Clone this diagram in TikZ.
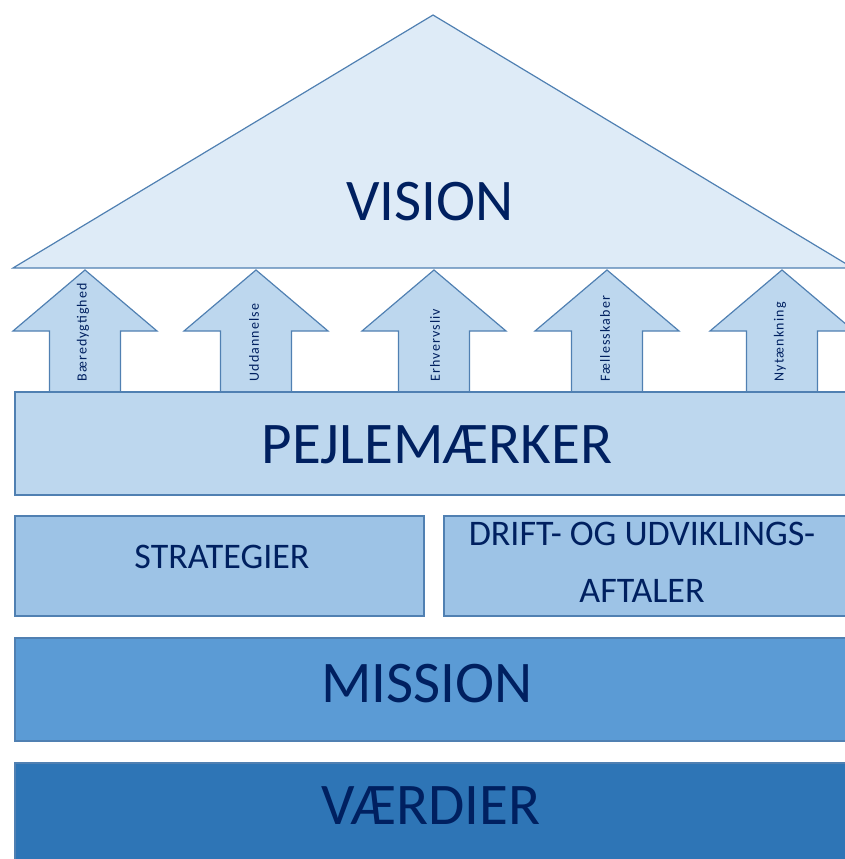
\documentclass[tikz,border=0pt]{standalone}
\usepackage{fontspec}
\setmainfont{Carlito}
\definecolor{navy}{HTML}{002060}
\definecolor{kant}{HTML}{5080B2}
\definecolor{blaa1}{HTML}{DEEBF7}
\definecolor{blaa2}{HTML}{BDD7EE}
\definecolor{blaa3}{HTML}{9DC3E6}
\definecolor{blaa4}{HTML}{5B9BD5}
\definecolor{blaa5}{HTML}{2E75B6}
\tikzset{
  felt/.style={draw=kant, line width=1.2pt},
  pil/.style={felt, fill=blaa2, line join=miter},
  stor/.style={text=navy, font=\fontsize{59}{62}\selectfont},
  mellem/.style={text=navy, font=\fontsize{36}{57}\selectfont, align=center},
  lille/.style={text=navy, font=\fontsize{14}{15}\selectfont\addfontfeature{LetterSpace=8}, rotate=90, anchor=west},
}
\begin{document}
\begin{tikzpicture}[x=1pt, y=-1pt]
    \useasboundingbox (0,0) rectangle (845,859);
    \clip (0,0) rectangle (845,859);
    % pile op mod taget
    \draw[pil] (85,270) -- ++(72,61) -- ++(-36.5,0) -- ++(0,61) -- ++(-71,0) -- ++(0,-61) -- ++(-36.5,0) -- cycle;
    \draw[pil] (256,270) -- ++(72,61) -- ++(-36.5,0) -- ++(0,61) -- ++(-71,0) -- ++(0,-61) -- ++(-36.5,0) -- cycle;
    \draw[pil] (434,270) -- ++(72,61) -- ++(-36.5,0) -- ++(0,61) -- ++(-71,0) -- ++(0,-61) -- ++(-36.5,0) -- cycle;
    \draw[pil] (607,270) -- ++(72,61) -- ++(-36.5,0) -- ++(0,61) -- ++(-71,0) -- ++(0,-61) -- ++(-36.5,0) -- cycle;
    \draw[pil] (782,270) -- ++(72,61) -- ++(-36.5,0) -- ++(0,61) -- ++(-71,0) -- ++(0,-61) -- ++(-36.5,0) -- cycle;
    \node[lille] (baer) at (83,385) {Bæredygtighed};
    \node[lille] (udd) at (254,385) {Uddannelse};
    \node[lille] (erhv) at (435,385) {Erhvervsliv};
    \node[lille] (faell) at (605,385) {Fællesskaber};
    \node[lille] (nyt) at (780,385) {Nytænkning};
    % taget
    \draw[felt, fill=blaa1] (13,268) -- (433,15) -- (853,268) -- cycle;
    \node[stor] (vision) at (430,202) {VISION};
    % lagene
    \draw[felt, fill=blaa2] (15,392) rectangle (860,495);
    \node[stor] (pejle) at (437,445) {PEJLEMÆRKER};
    \draw[felt, fill=blaa3] (15,516) rectangle (424,616);
    \node[mellem] (strat) at (222,557) {STRATEGIER};
    \draw[felt, fill=blaa3] (444,516) rectangle (860,616);
    \node[mellem] (drift) at (642,562) {DRIFT- OG UDVIKLINGS-\\AFTALER};
    \draw[felt, fill=blaa4] (15,638) rectangle (860,741);
    \node[stor] (mission) at (427,684) {MISSION};
    \draw[felt, fill=blaa5] (15,763) rectangle (860,880);
    \node[stor] (vaerdi) at (431,806) {VÆRDIER};
\end{tikzpicture}
\end{document}
